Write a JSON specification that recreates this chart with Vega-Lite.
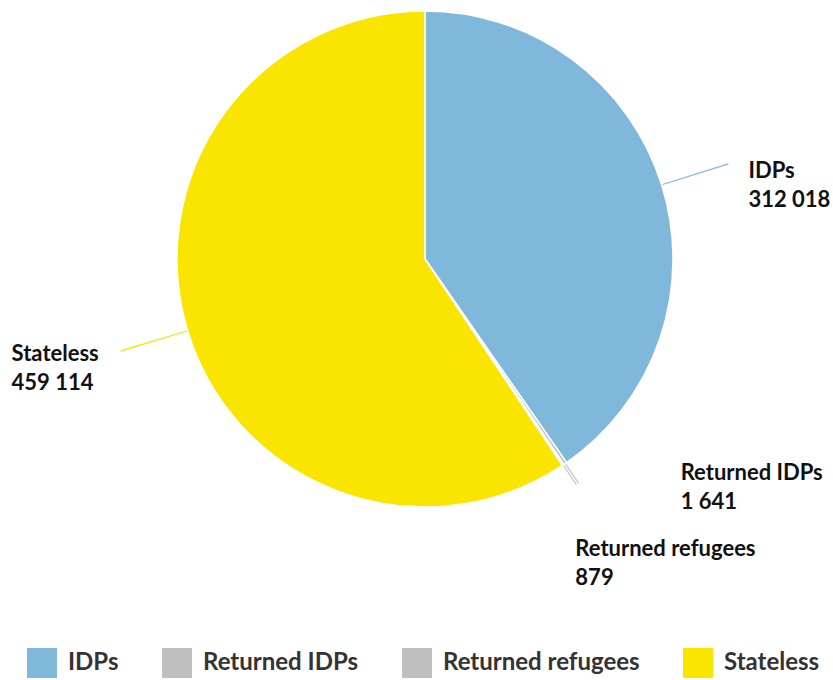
{
  "$schema": "https://vega.github.io/schema/vega-lite/v6.json",
  "autosize": {"type": "fit", "contains": "padding"},
  "width": 833,
  "height": 680,
  "padding": {"left": 17, "top": 11, "right": 0, "bottom": -8},
  "background": "white",
  "data": {
    "values": [
      {"category": "IDPs", "value": 312018},
      {"category": "Returned IDPs", "value": 1641},
      {"category": "Returned refugees", "value": 879},
      {"category": "Stateless", "value": 459114}
    ]
  },
  "transform": [
    {"joinaggregate": [{"op": "sum", "field": "value", "as": "total"}]},
    {"window": [{"op": "sum", "field": "value", "as": "cum"}], "sort": [{"field": "category", "order": "ascending"}], "frame": [null, 0]},
    {"calculate": "2*PI*(datum.cum-datum.value)/datum.total", "as": "t0"},
    {"calculate": "2*PI*datum.cum/datum.total", "as": "t1"},
    {"calculate": "(datum.t0+datum.t1)/2", "as": "tm"},
    {"calculate": "datum.tm-0.0022", "as": "ta"},
    {"calculate": "datum.tm+0.0022", "as": "tb"},
    {"calculate": "[datum.category, replace(format(datum.value, ','), regexp(',', 'g'), ' ')]", "as": "lbl"}
  ],
  "layer": [
    {
      "mark": {"type": "arc", "radius": 248, "stroke": "white", "strokeWidth": 1.5},
      "encoding": {
        "theta": {"field": "t0", "type": "quantitative", "scale": null},
        "theta2": {"field": "t1"},
        "color": {
          "field": "category",
          "type": "nominal",
          "scale": {"domain": ["IDPs", "Returned IDPs", "Returned refugees", "Stateless"], "range": ["#80b8dc", "#bfbfbf", "#bfbfbf", "#f9e500"]},
          "legend": {
            "orient": "bottom",
            "direction": "horizontal",
            "columns": 4,
            "title": null,
            "symbolType": "square",
            "symbolSize": 900,
            "symbolStrokeWidth": 0,
            "labelFont": "Lato",
            "labelFontSize": 24,
            "labelFontWeight": "bold",
            "labelColor": "#333333",
            "labelLimit": 400,
            "columnPadding": 43,
            "labelOffset": 11,
            "padding": 10,
            "offset": 131
          }
        }
      }
    },
    {
      "transform": [{"filter": "datum.category == 'IDPs' || datum.category == 'Stateless'"}],
      "mark": {"type": "arc", "radius": 318, "radius2": 249},
      "encoding": {
        "theta": {"field": "ta", "type": "quantitative", "scale": null},
        "theta2": {"field": "tb"},
        "color": {"field": "category", "type": "nominal"}
      }
    },
    {
      "transform": [{"filter": "datum.category == 'Returned IDPs' || datum.category == 'Returned refugees'"}],
      "mark": {"type": "arc", "radius": 272, "radius2": 249, "color": "#c4c4c4"},
      "encoding": {
        "theta": {"field": "ta", "type": "quantitative", "scale": null},
        "theta2": {"field": "tb"}
      }
    },
    {
      "transform": [{"filter": "datum.category == 'IDPs'"}],
      "mark": {"type": "text", "align": "left", "baseline": "middle", "radius": 318, "dx": 20, "dy": 7, "font": "Lato", "fontSize": 22, "fontWeight": "bold", "lineHeight": 29, "fill": "#111111"},
      "encoding": {
        "theta": {"field": "tm", "type": "quantitative", "scale": null},
        "text": {"field": "lbl"}
      }
    },
    {
      "transform": [{"filter": "datum.category == 'Stateless'"}],
      "mark": {"type": "text", "align": "left", "baseline": "middle", "radius": 318, "dx": -109, "dy": 3, "font": "Lato", "fontSize": 22, "fontWeight": "bold", "lineHeight": 29, "fill": "#111111"},
      "encoding": {
        "theta": {"field": "tm", "type": "quantitative", "scale": null},
        "text": {"field": "lbl"}
      }
    },
    {
      "transform": [{"filter": "datum.category == 'Returned IDPs'"}],
      "mark": {"type": "text", "align": "left", "baseline": "middle", "radius": 270, "dx": 103, "dy": -9, "font": "Lato", "fontSize": 22, "fontWeight": "bold", "lineHeight": 29, "fill": "#111111"},
      "encoding": {
        "theta": {"field": "tm", "type": "quantitative", "scale": null},
        "text": {"field": "lbl"}
      }
    },
    {
      "transform": [{"filter": "datum.category == 'Returned refugees'"}],
      "mark": {"type": "text", "align": "left", "baseline": "middle", "radius": 270, "dx": 0, "dy": 66, "font": "Lato", "fontSize": 22, "fontWeight": "bold", "lineHeight": 29, "fill": "#111111"},
      "encoding": {
        "theta": {"field": "tm", "type": "quantitative", "scale": null},
        "text": {"field": "lbl"}
      }
    }
  ],
  "config": {"view": {"stroke": null}}
}
